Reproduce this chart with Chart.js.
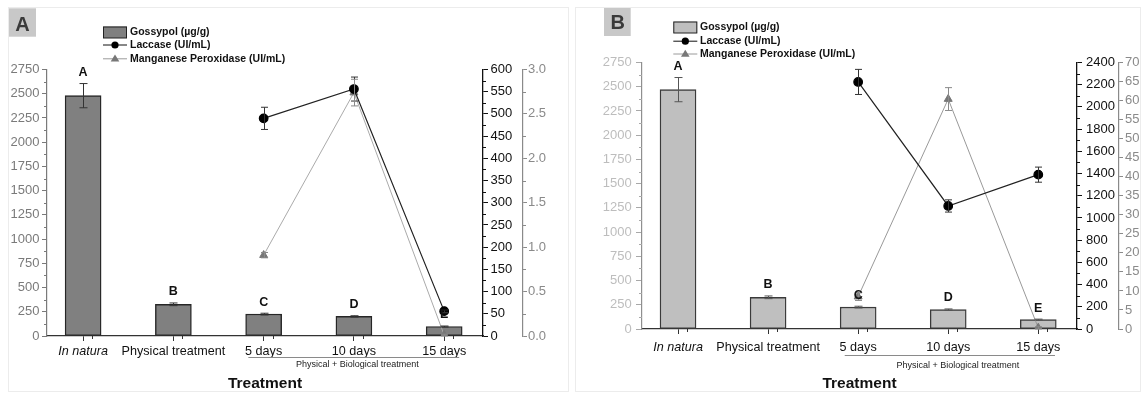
<!DOCTYPE html>
<html><head><meta charset="utf-8">
<script src="https://cdn.jsdelivr.net/npm/chart.js@4.4.1/dist/chart.umd.min.js"></script>
<style>
html,body{margin:0;padding:0;background:#fff;width:1145px;height:395px;overflow:hidden}
#wa{position:absolute;left:0;top:0;width:572px;height:395px}
#wb{position:absolute;left:572px;top:0;width:573px;height:395px}
</style></head><body>
<div id="wa"><canvas id="ca" width="572" height="395"></canvas></div>
<div id="wb"><canvas id="cb" width="573" height="395"></canvas></div>
<script>
// ---------- data ----------
const categories = ['In natura', 'Physical treatment', '5 days', '10 days', '15 days'];
const letters = ['A', 'B', 'C', 'D', 'E'];
const seriesNames = ['Gossypol (µg/g)', 'Laccase (UI/mL)', 'Manganese Peroxidase (UI/mL)'];
const bracketText = 'Physical + Biological treatment';
const axisTitle = 'Treatment';

const gossypolA    = [2480, 327, 226, 202, 98];
const gossypolErrA = [125, 14, 9, 7, 5];
const laccaseA     = [null, null, 490, 556, 56];
const laccaseErrA  = [0, 0, 25, 27, 3];
const mnpA         = [null, null, 0.91, 2.74, 0.01];
const mnpErrA      = [0, 0, 0.03, 0.15, 0.01];

const gossypolB    = [2470, 327, 226, 200, 97];
const gossypolErrB = [125, 14, 9, 7, 5];
const laccaseB     = [null, null, 2225, 1108, 1390];
const laccaseErrB  = [0, 0, 113, 55, 68];
const mnpB         = [null, null, 8.5, 60.4, 0.3];
const mnpErrB      = [0, 0, 1, 3, 0.3];

// tick setups
const gossypolAxis = {max: 2750, step: 250};
const laccaseAxisA = {max: 600, step: 50};
const mnpAxisA     = {max: 3, step: 0.5};
const laccaseAxisB = {max: 2400, step: 200};
const mnpAxisB     = {max: 70, step: 5};

const F = '"Liberation Sans", Arial, Helvetica, sans-serif';

function toPts(vals, errs) {
  return vals.map((v, i) => ({x: i, y: v, e: errs[i]})).filter(p => p.y !== null);
}

function makePanel(canvasId, P) {
  const deco = {
    id: 'deco' + canvasId,
    afterDatasetsDraw(chart) {
      const c = chart.ctx;
      // error bars
      chart.data.datasets.forEach((ds, di) => {
        const meta = chart.getDatasetMeta(di);
        const ys = chart.scales[ds.yAxisID];
        c.save();
        c.strokeStyle = ds.errColor; c.lineWidth = 1;
        ds.data.forEach((p, j) => {
          if (!p.e) return;
          const x = Math.round(meta.data[j].x) + 0.5;
          const y1 = ys.getPixelForValue(p.y + p.e);
          const y2 = ys.getPixelForValue(Math.max(p.y - p.e, ys.min));
          c.beginPath();
          c.moveTo(x, y1); c.lineTo(x, y2);
          c.moveTo(x - ds.cap, y1); c.lineTo(x + ds.cap, y1);
          c.moveTo(x - ds.cap, y2); c.lineTo(x + ds.cap, y2);
          c.stroke();
        });
        c.restore();
      });
      // letters above bars
      const bi = chart.data.datasets.findIndex(d => d.type === 'bar');
      const bm = chart.getDatasetMeta(bi);
      const yb = chart.scales.y;
      c.save();
      c.font = 'bold 12.5px ' + F; c.fillStyle = '#111';
      c.textAlign = 'center'; c.textBaseline = 'middle';
      chart.data.datasets[bi].data.forEach((p, j) => {
        c.fillText(letters[j], bm.data[j].x, yb.getPixelForValue(p.y + p.e) - P.letterGap);
      });
      c.restore();
    },
    afterDraw(chart) {
      const c = chart.ctx;
      c.save();
      // minor ticks
      P.minor.forEach(m => {
        const s = chart.scales[m.id];
        c.strokeStyle = m.color; c.lineWidth = 1;
        c.beginPath();
        for (let k = 0; ; k++) {
          const v = s.min + m.step * (2 * k + 1);
          if (v >= s.max - 1e-9) break;
          const px = Math.round(s.getPixelForValue(v)) + 0.5;
          if (m.side === 'left') { c.moveTo(s.right, px); c.lineTo(s.right - m.len, px); }
          else if (m.side === 'right') { c.moveTo(s.left, px); c.lineTo(s.left + m.len, px); }
          else { c.moveTo(px, s.top); c.lineTo(px, s.top + m.len); }
        }
        c.stroke();
      });
      // bracket
      const xs = chart.scales.x;
      c.strokeStyle = '#8a8a8a'; c.lineWidth = 1;
      c.beginPath();
      c.moveTo(xs.getPixelForValue(2) + P.br.x0, P.br.y + 0.5);
      c.lineTo(xs.getPixelForValue(4) + P.br.x1, P.br.y + 0.5);
      c.stroke();
      c.font = '9px ' + F; c.fillStyle = '#222';
      c.textAlign = 'center'; c.textBaseline = 'middle';
      c.fillText(bracketText, xs.getPixelForValue(3) + P.br.tx, P.br.ty);
      // legend
      const L = P.legend;
      c.fillStyle = P.barFill; c.fillRect(L.x, L.y[0] - 5.5, 24, 11.5);
      c.strokeStyle = '#222'; c.lineWidth = 1; c.strokeRect(L.x + 0.5, L.y[0] - 5, 23, 11);
      c.strokeStyle = '#111'; c.beginPath(); c.moveTo(L.x, L.y[1] + 0.5); c.lineTo(L.x + 24, L.y[1] + 0.5); c.stroke();
      c.fillStyle = '#000'; c.beginPath(); c.arc(L.x + 12, L.y[1] + 0.5, 3.6, 0, Math.PI * 2); c.fill();
      c.strokeStyle = '#9a9a9a'; c.beginPath(); c.moveTo(L.x, L.y[2] + 0.5); c.lineTo(L.x + 24, L.y[2] + 0.5); c.stroke();
      c.fillStyle = '#777'; c.beginPath();
      c.moveTo(L.x + 12, L.y[2] - 3.8); c.lineTo(L.x + 16.3, L.y[2] + 3.3); c.lineTo(L.x + 7.7, L.y[2] + 3.3); c.closePath(); c.fill();
      c.font = 'bold 10.5px ' + F; c.fillStyle = '#111'; c.textAlign = 'left'; c.textBaseline = 'middle';
      seriesNames.forEach((t, i) => c.fillText(t, L.textX, L.y[i] + 0.5));
      // badge
      const B = P.badge;
      c.fillStyle = '#c8c8c8'; c.fillRect(B.x, B.y, B.w, B.h);
      c.font = 'bold 20px ' + F; c.fillStyle = '#3a3a3a'; c.textAlign = 'center'; c.textBaseline = 'middle';
      c.fillText(B.t, B.cx, B.cy);
      // frame
      c.strokeStyle = '#ececec'; c.lineWidth = 1;
      c.strokeRect(P.frame[0], P.frame[1], P.frame[2], P.frame[3]);
      c.restore();
    }
  };

  return new Chart(document.getElementById(canvasId).getContext('2d'), {
    type: 'bar',
    data: {
      datasets: [
        {type: 'line', label: seriesNames[1], data: toPts(P.lac, P.lacErr), yAxisID: 'y1',
         borderColor: '#222', borderWidth: 1.2, tension: 0, fill: false,
         pointStyle: 'circle', pointRadius: 4.3, pointBackgroundColor: '#000', pointBorderColor: '#000',
         order: 1, errColor: '#333', cap: 3.5},
        {type: 'line', label: seriesNames[2], data: toPts(P.mnp, P.mnpErr), yAxisID: 'y2',
         borderColor: P.mnpLine, borderWidth: 1, tension: 0, fill: false,
         pointStyle: 'triangle', pointRadius: 4.6, pointBackgroundColor: '#777', pointBorderColor: '#777',
         order: 2, errColor: '#8a8a8a', cap: 3.5},
        {type: 'bar', label: seriesNames[0], data: toPts(P.gos, P.gosErr), yAxisID: 'y',
         backgroundColor: P.barFill, borderColor: P.barBorder, borderWidth: 1.4, borderSkipped: false,
         barThickness: 36, order: 3, errColor: P.barErr, cap: 4}
      ]
    },
    options: {
      responsive: false, animation: false, devicePixelRatio: 1,
      layout: {padding: P.pad},
      plugins: {legend: {display: false}, tooltip: {enabled: false}},
      scales: {
        x: {
          type: 'linear', position: 'bottom', min: -0.4, max: 4.43, offset: false,
          afterBuildTicks: s => { s.ticks = categories.map((_, i) => ({value: i})); },
          afterFit: s => { s.height = P.xH; },
          grid: {drawOnChartArea: false, tickLength: 5, color: '#333', offset: false},
          border: {color: '#333', width: 1.3},
          ticks: {autoSkip: false, maxRotation: 0, minRotation: 0, padding: P.xPad, color: '#111',
                  font: ctx => ({family: F, size: 12.6, style: ctx.index === 0 ? 'italic' : 'normal'}),
                  callback: v => categories[v]},
          title: {display: true, text: axisTitle, color: '#111',
                  font: {family: F, size: 15.5, weight: 'bold'}, padding: {top: 0, bottom: P.titlePad}}
        },
        y: {
          position: 'left', min: 0, max: gossypolAxis.max,
          afterFit: s => { s.width = P.yW; },
          grid: {drawOnChartArea: false, tickLength: P.yTick, color: P.yTickColor},
          border: {color: P.yAxisColor, width: 1.2},
          ticks: {stepSize: gossypolAxis.step, padding: P.yPad, color: P.yLabelColor, font: {family: F, size: 13},
                  callback: v => String(v)}
        },
        y1: {
          position: 'right', weight: 1, min: 0, max: P.lacAxis.max,
          afterFit: s => { s.width = P.y1W; },
          grid: {drawOnChartArea: false, tickLength: P.y1Tick, color: '#111'},
          border: {color: '#111', width: 1.3},
          ticks: {stepSize: P.lacAxis.step, padding: P.y1Pad, color: '#111', font: {family: F, size: 13},
                  callback: v => String(v)}
        },
        y2: {
          position: 'right', weight: 2, min: 0, max: P.mnpAxis.max,
          afterFit: s => { s.width = P.y2W; },
          grid: {drawOnChartArea: false, tickLength: P.y2Tick, color: '#8a8a8a'},
          border: {color: '#8a8a8a', width: 1.2},
          ticks: {stepSize: P.mnpAxis.step, padding: P.y2Pad, color: '#8a8a8a', font: {family: F, size: 13},
                  callback: v => P.mnpAxis.max <= 5 ? v.toFixed(1) : String(v)}
        }
      }
    },
    plugins: [deco]
  });
}

makePanel('ca', {
  gos: gossypolA, gosErr: gossypolErrA, lac: laccaseA, lacErr: laccaseErrA, mnp: mnpA, mnpErr: mnpErrA,
  lacAxis: laccaseAxisA, mnpAxis: mnpAxisA,
  pad: {left: 0, top: 69.5, right: 9, bottom: 0},
  xH: 59, yW: 47, y1W: 40, y2W: 40,
  xPad: 2.5, titlePad: 1.7,
  yTick: 5, yPad: 2.5, y1Tick: 5, y1Pad: 2.5, y2Tick: 4, y2Pad: 1,
  yTickColor: '#7a7a7a', yAxisColor: '#7a7a7a', yLabelColor: '#7a7a7a',
  barFill: '#808080', barBorder: '#262626', barErr: '#333', mnpLine: '#aaaaaa',
  letterGap: 11,
  minor: [
    {id: 'y', step: 125, len: 3, side: 'left', color: '#7a7a7a'},
    {id: 'y1', step: 25, len: 3, side: 'right', color: '#111'},
    {id: 'y2', step: 0.25, len: 3, side: 'right', color: '#8a8a8a'},
    {id: 'x', step: 0.5, len: 3, side: 'bottom', color: '#333'}
  ],
  br: {x0: -15.3, x1: 15, y: 357, tx: 3.4, ty: 364.5},
  legend: {x: 103, y: [32, 44.5, 58.3], textX: 130},
  badge: {x: 9, y: 8.3, w: 27, h: 28.4, t: 'A', cx: 22.4, cy: 25},
  frame: [8.5, 7.5, 560, 384]
});

makePanel('cb', {
  gos: gossypolB, gosErr: gossypolErrB, lac: laccaseB, lacErr: laccaseErrB, mnp: mnpB, mnpErr: mnpErrB,
  lacAxis: laccaseAxisB, mnpAxis: mnpAxisB,
  pad: {left: 0, top: 62.5, right: 0, bottom: 0},
  xH: 66, yW: 70, y1W: 42, y2W: 26,
  xPad: 5.5, titlePad: 2.4,
  yTick: 6, yPad: 4.3, y1Tick: 5, y1Pad: 4, y2Tick: 4, y2Pad: 2,
  yTickColor: '#a8a8a8', yAxisColor: '#8f8f8f', yLabelColor: '#bdbdbd',
  barFill: '#bfbfbf', barBorder: '#3a3a3a', barErr: '#555', mnpLine: '#999999',
  letterGap: 11,
  minor: [
    {id: 'y', step: 125, len: 3, side: 'left', color: '#a8a8a8'},
    {id: 'y1', step: 100, len: 3, side: 'right', color: '#111'},
    {id: 'x', step: 0.5, len: 3, side: 'bottom', color: '#333'}
  ],
  br: {x0: -13.4, x1: 16.7, y: 355, tx: 9.7, ty: 365.3},
  legend: {x: 101.3, y: [27, 40.7, 53.5], textX: 128},
  badge: {x: 32, y: 7.3, w: 26.7, h: 28.7, t: 'B', cx: 45.8, cy: 23.5},
  frame: [3.5, 7.5, 565, 384]
});
</script>
</body></html>
